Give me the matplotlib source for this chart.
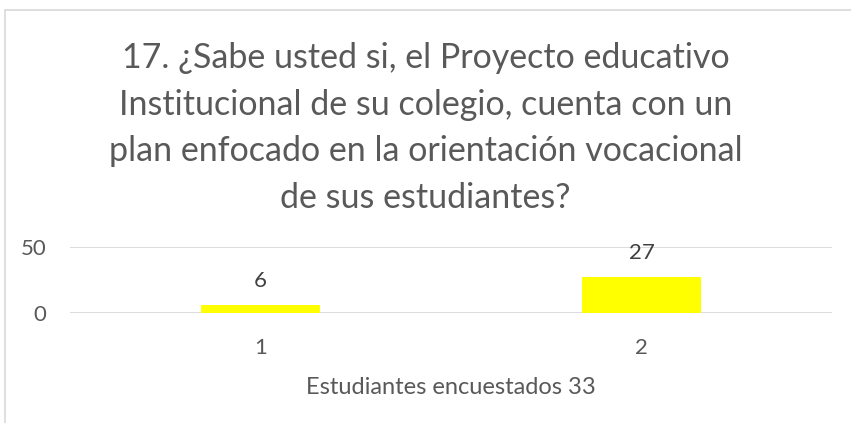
import matplotlib.pyplot as plt
from matplotlib.patches import Rectangle

categorias = ['1', '2']
valores = [6, 27]
titulo = ('17. ¿Sabe usted si, el Proyecto educativo\n'
          'Institucional de su colegio, cuenta con un\n'
          'plan enfocado en la orientación vocacional\n'
          'de sus estudiantes?')
etiqueta_x = 'Estudiantes encuestados 33'

plt.rcParams['font.family'] = ['Lato', 'DejaVu Sans']
gris = '#595959'

fig = plt.figure(figsize=(8.51, 4.23), dpi=100)
# marco del grafico
fig.patches.append(Rectangle((5 / 851, -0.1), 1.2, 1 - 10 / 423 + 0.1,
                             transform=fig.transFigure, fill=False,
                             edgecolor='#d9d9d9', lw=1.2))

ax = fig.add_axes([70 / 851, 1 - 313 / 423, 762 / 851, 66 / 423])
x = range(len(categorias))
ax.bar(x, valores, width=0.31, color='#ffff00', zorder=3)
for xi, v in zip(x, valores):
    ax.annotate(str(v), (xi, v), xytext=(0, 10), textcoords='offset points',
                ha='center', va='bottom', fontsize=16, color='#404040')

ax.set_xlim(-0.5, 1.5)
ax.set_ylim(0, 50)
ax.set_yticks([0, 50])
ax.set_xticks(list(x))
ax.set_xticklabels(categorias)
ax.tick_params(length=0, labelsize=16, colors=gris, pad=17)
ax.tick_params(axis='x', pad=18)
ax.grid(axis='y', color='#d9d9d9', lw=1.3, zorder=0)
for s in ax.spines.values():
    s.set_visible(False)
ax.set_xlabel(etiqueta_x, fontsize=17, color=gris, labelpad=14)

fig.text(0.5, 1 - 42 / 423, titulo, ha='center', va='top', fontsize=24.5,
         color=gris, linespacing=1.56)

fig.savefig('out.png', dpi=100)
